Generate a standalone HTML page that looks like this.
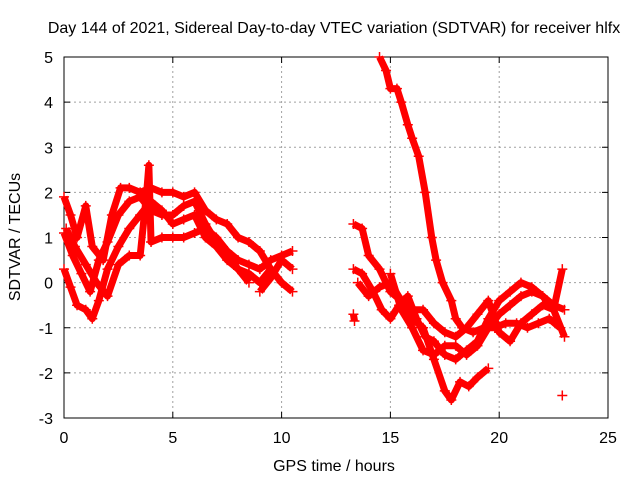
<!DOCTYPE html>
<html><head><meta charset="utf-8"><style>
body{margin:0;background:#fff;}
svg text{font-family:"Liberation Sans",sans-serif;font-size:16px;fill:#000;}
</style></head><body>
<svg id="chart" width="640" height="480" xmlns="http://www.w3.org/2000/svg">
<rect width="640" height="480" fill="#fff"/>
<g id="grid"></g><g id="axes"></g><g id="series"></g>
<text x="334" y="33" text-anchor="middle">Day 144 of 2021, Sidereal Day-to-day VTEC variation (SDTVAR) for receiver hlfx</text>
<text x="334" y="471" text-anchor="middle">GPS time / hours</text>
<text transform="translate(20,237) rotate(-90)" text-anchor="middle">SDTVAR / TECUs</text>
</svg>
<script>
const xTicks=[0,5,10,15,20,25];
const yTicks=[-3,-2,-1,0,1,2,3,4,5];
const t1=[[0,1.9],[0.3,1.5],[0.6,1.0],[1.0,1.7],[1.3,0.8],[1.8,0.5],[2.2,1.5],[2.6,2.1],[3.0,2.1],[3.5,2.0],[4.0,2.1],[4.5,2.0],[5.0,2.0],[5.5,1.9],[6.0,2.0],[6.5,1.6],[7.0,1.4],[7.5,1.3],[8.0,1.0],[8.5,0.9],[9.0,0.7],[9.5,0.3]];
const t2=[[0,1.1],[0.4,0.6],[0.8,0.2],[1.2,-0.2],[1.6,0.5],[2.0,0.9],[2.5,1.5],[3.0,1.8],[3.5,1.9],[4.0,1.6],[4.5,1.5],[5.0,1.5],[5.5,1.7],[6.0,1.8],[6.5,1.3],[7.0,0.9],[7.5,0.6],[8.0,0.3],[8.5,0.0]];
const t3=[[0,0.3],[0.3,-0.1],[0.6,-0.5],[1.0,-0.6],[1.3,-0.8],[1.6,-0.4],[2.0,0.3],[2.5,0.8],[3.0,1.2],[3.5,1.5],[4.0,1.8],[4.5,1.6],[5.0,1.3],[5.5,1.4],[6.0,1.5],[6.5,1.0],[7.0,0.8],[7.5,0.5],[8.0,0.3],[8.5,0.2],[9.0,0.0],[9.5,0.3],[10.0,0.0],[10.5,-0.2]];
const t4=[[0.1,1.2],[0.5,0.8],[1.0,0.4],[1.5,0.0],[2.0,-0.3],[2.5,0.4],[3.0,0.6],[3.5,0.6],[3.8,2.0],[3.9,2.6],[4.0,0.9],[4.5,1.0],[5.0,1.0],[5.5,1.0],[6.0,1.1],[6.5,1.2],[7.0,1.0],[7.5,0.7],[8.0,0.5],[8.5,0.4],[9.0,0.3],[9.5,0.5],[10.0,0.6],[10.5,0.7]];
const t5=[[9.0,-0.2],[9.5,0.1],[10.0,0.5],[10.5,0.3]];
const t6=[[14.5,5.0],[14.8,4.7],[15.0,4.3],[15.3,4.3],[15.5,4.0],[15.8,3.5],[16.0,3.2],[16.3,2.8],[16.6,2.0],[16.9,1.0],[17.1,0.5],[17.4,0.0],[17.8,-0.4],[18.0,-0.8],[18.3,-1.0],[18.8,-1.1],[19.3,-1.0],[19.8,-1.0],[20.3,-0.9],[20.8,-0.9],[21.3,-1.0],[21.8,-0.9],[22.3,-0.8],[22.8,-1.0]];
const t7=[[13.3,1.3],[13.7,1.2],[14.0,0.6],[14.5,0.3],[15.0,-0.2],[15.5,-0.4],[16.0,-0.8],[16.5,-1.0],[17.0,-1.7],[17.5,-2.4],[17.8,-2.6],[18.2,-2.2],[18.6,-2.3],[19.0,-2.1],[19.5,-1.9]];
const t8=[[13.3,0.3],[13.7,0.2],[14.2,-0.2],[14.6,-0.6],[15.0,-0.8],[15.4,-0.5],[15.8,-0.3],[16.2,-0.8],[16.6,-1.2],[17.0,-1.3],[17.5,-1.6],[18.0,-1.7],[18.5,-1.5],[19.0,-1.3],[19.5,-0.8],[20.0,-0.4],[20.5,-0.2],[21.0,0.0],[21.5,-0.1],[22.0,-0.3],[22.5,-0.5],[23.0,-0.6]];
const t9=[[13.5,0.0],[14.0,-0.3],[14.5,-0.1],[15.0,0.0],[15.5,-0.4],[16.0,-0.6],[16.5,-0.6],[17.0,-0.9],[17.5,-1.1],[18.0,-1.2],[18.5,-1.0],[19.0,-0.7],[19.5,-0.4],[20.0,-1.1],[20.5,-1.3],[21.0,-0.9],[21.5,-0.7],[22.0,-0.5],[22.5,-0.6],[23.0,-1.2]];
const t10=[[15.0,0.2],[15.5,-0.6],[16.0,-1.0],[16.5,-1.5],[17.0,-1.6],[17.5,-1.4],[18.0,-1.4],[18.5,-1.6],[19.0,-1.4],[19.5,-1.0],[20.0,-0.7],[20.5,-0.5],[21.0,-0.3],[21.5,-0.2],[22.0,-0.3],[22.5,-0.6],[22.9,0.3]];
const t11=[[13.3,-0.7],[13.35,-0.85]];
const t12=[[22.9,-2.5]];
const seriesList=[t1,t2,t3,t4,t5,t6,t7,t8,t9,t10,t11,t12];
const X0=64,X1=608,Y0=418,Y1=57;
const sx=v=>X0+(v-0)/(25-0)*(X1-X0);
const sy=v=>Y0-(v+3)/(8)*(Y0-Y1);
const NS='http://www.w3.org/2000/svg';
function mk(tag,attrs,parent){const e=document.createElementNS(NS,tag);for(const k in attrs)e.setAttribute(k,attrs[k]);parent.appendChild(e);return e;}
const grid=document.getElementById('grid'),axes=document.getElementById('axes'),ser=document.getElementById('series');
xTicks.forEach(t=>{const x=sx(t);
 if(t>0&&t<25){const l=mk('line',{x1:x,y1:Y0,x2:x,y2:Y1,stroke:'#a0a0a0','stroke-dasharray':'2,3'},grid);
 
 }
 mk('line',{x1:x,y1:Y0,x2:x,y2:Y0-6,stroke:'#000'},axes);mk('line',{x1:x,y1:Y1,x2:x,y2:Y1+6,stroke:'#000'},axes);
 const tx=mk('text',{x:x,y:443,'text-anchor':'middle'},axes);tx.textContent=t;
 
 });
yTicks.forEach(t=>{const y=sy(t);
 if(t>-3&&t<5){const l=mk('line',{x1:X0,y1:y,x2:X1,y2:y,stroke:'#a0a0a0','stroke-dasharray':'2,3'},grid);
 
 }
 mk('line',{x1:X0,y1:y,x2:X0+6,y2:y,stroke:'#000'},axes);mk('line',{x1:X1,y1:y,x2:X1-6,y2:y,stroke:'#000'},axes);
 const tx=mk('text',{x:53,y:y+6,'text-anchor':'end'},axes);tx.textContent=t;
 
 });
const frame=mk('rect',{x:X0,y:Y1,width:X1-X0,height:Y0-Y1,fill:'none',stroke:'#000'},axes);


seriesList.forEach((s,i)=>{
 const g=mk('g',{},ser);
 
 
 if(s.length>1){mk('polyline',{points:s.map(p=>sx(p[0])+','+sy(p[1])).join(' '),fill:'none',stroke:'#f00','stroke-width':7,'stroke-linejoin':'round'},g);}
 s.forEach(p=>{const x=sx(p[0]),y=sy(p[1]);
  mk('path',{d:`M${x-5},${y}H${x+5}M${x},${y-5}V${y+5}`,stroke:'#f00','stroke-width':1.5},g);});
});
</script>
</body></html>
